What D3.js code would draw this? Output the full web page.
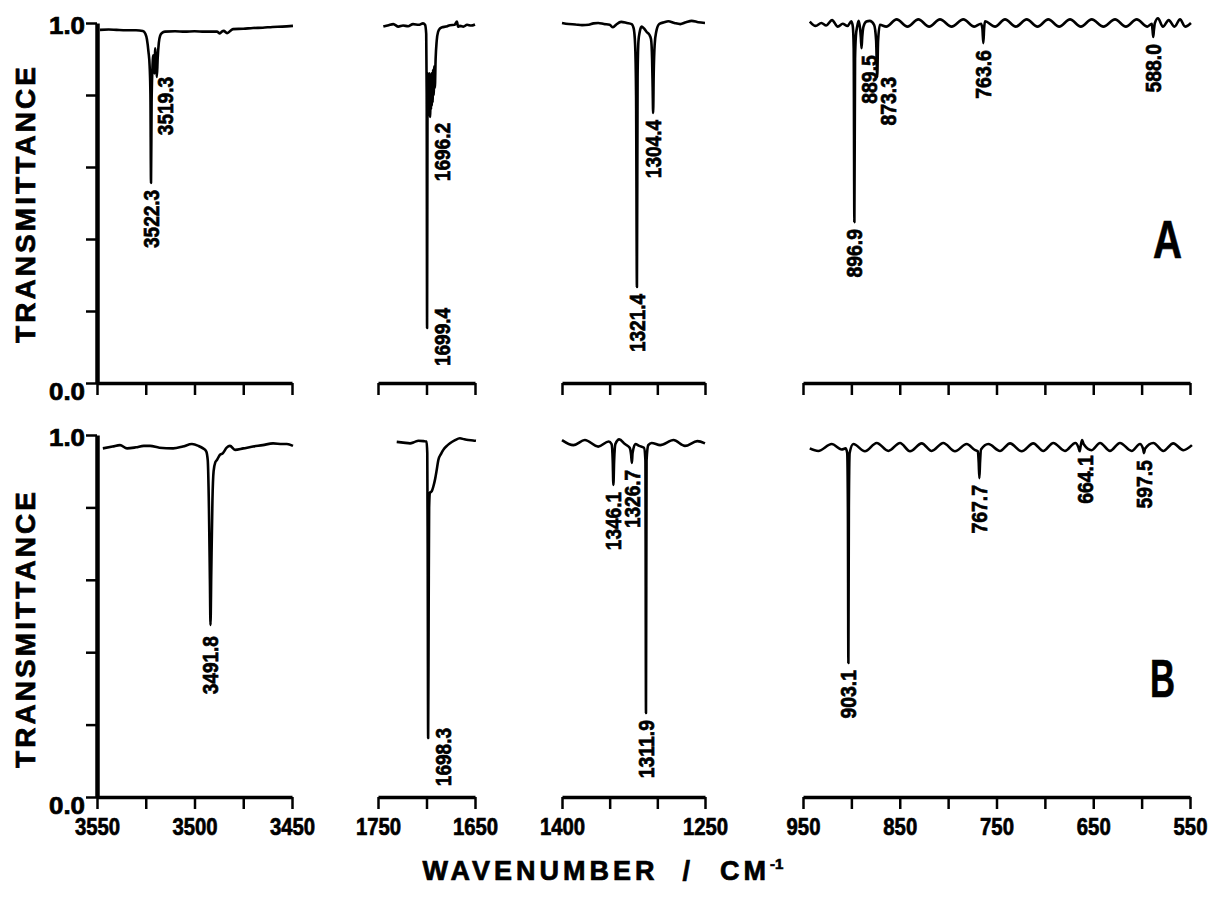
<!DOCTYPE html>
<html>
<head>
<meta charset="utf-8">
<script src="https://cdn.jsdelivr.net/npm/d3@7"></script>
<style>
  body { margin: 0; background: #fff; }
  svg { display: block; }
  .spec { fill: none; stroke: #000; stroke-width: 2.6; stroke-linejoin: round; }
  text { font-family: "Liberation Sans", Arial, sans-serif; font-weight: bold; fill: #000; }
  .heavy { stroke: #000; stroke-width: 0.7; }
</style>
</head>
<body>
<svg id="chart" width="1218" height="897"></svg>
<script>
// Spectrum A, [wavenumber, transmittance]
const specA1 = [
  [3548.5, .981], [3544, .982], [3540, .981], [3535, .980], [3530, .980], [3526.5, .978],
  [3525.2, .97], [3524.4, .955], [3523.6, .92], [3523, .88], [3522.6, .80], [3522.3, .556],
  [3522.0, .78], [3521.6, .87], [3521.1, .91], [3520.6, .86], [3520.1, .93], [3519.7, .88],
  [3519.3, .85], [3518.9, .90], [3518.3, .945], [3517.6, .965], [3516.7, .972], [3515.1, .976],
  [3510, .977], [3505, .976], [3500, .977], [3495, .976], [3488.5, .976], [3487, .971],
  [3486, .976], [3485, .978], [3483.3, .972], [3480.3, .983], [3475, .984], [3470, .986],
  [3465, .987], [3460, .989], [3455, .99], [3449.5, .992]
];
const specA2 = [
  [1744.5, .990], [1739, .994], [1734.2, .997], [1729, .99], [1724.2, .993], [1719, .991],
  [1713.9, .997], [1708, .995], [1703.6, .999], [1701.5, .995], [1700.3, .97], [1699.8, .8],
  [1699.4, .153], [1699.0, .75], [1698.6, .86], [1698.2, .76], [1697.8, .85], [1697.4, .75],
  [1697.0, .86], [1696.6, .75], [1696.2, .739], [1695.8, .85], [1695.4, .76], [1695, .86],
  [1694.6, .77], [1694.2, .86], [1693.7, .78], [1693.2, .87], [1692.6, .80], [1692, .88],
  [1691.4, .82], [1690.6, .90], [1689.5, .95], [1688.1, .975], [1686, .985], [1684, .988],
  [1680, .99], [1675.8, .994], [1671, .995], [1668.6, 1.004], [1667.5, .99], [1665.5, .992],
  [1662, .99], [1658.2, .995], [1654, .993], [1650, .996]
];
const specA3 = [
  [1400, 1.0], [1393, .997], [1386, .996], [1379, .994], [1372, .995], [1367, .999],
  [1362, 1.0], [1356, .997], [1350, .995], [1346.5, .988], [1343, .996], [1338, 1.003],
  [1332, 1.0], [1327, .997], [1324.8, .985], [1323.3, .94], [1322.3, .80], [1321.4, .267],
  [1320.7, .85], [1319.8, .95], [1318.5, .975], [1316.5, .99], [1314, .985], [1311.2, .975],
  [1308.5, .968], [1306.6, .955], [1305.5, .90], [1304.9, .82], [1304.4, .75], [1303.8, .86],
  [1302.8, .94], [1301.2, .975], [1298, .997], [1293, 1.002], [1288.5, 1.005], [1282, 1.0],
  [1276, .997], [1270, 1.002], [1264, 1.006], [1257, 1.002], [1250, 1.0]
];
const specA4 = [
  [943, 1.004], [937, .992], [931, 1.0], [926, .993], [920, 1.008], [914, .99], [909, .998],
  [904, .992], [900, 1.005], [898.5, .99], [897.6, .93], [896.9, .447], [896.2, .90],
  [895.3, .965], [894, .99], [892.5, 1.006], [891, .985], [890.2, .96], [889.5, .93],
  [888.8, .96], [887.5, .99], [884.5, 1.004], [881, 1.006], [876.5, .995], [874.4, .95],
  [873.3, .85], [872.4, .95], [870.5, .995], [864, .99], [853.2, 1.01], [842, .99],
  [830.8, 1.01], [819.6, .99], [808.4, 1.01], [796.4, .99], [784.3, 1.01], [773, .99],
  [766, .998], [764.6, .985], [763.6, .944], [762.8, .985], [761.9, 1.005], [751.5, .99],
  [741.2, 1.01], [730, .99], [718.8, 1.01], [707.6, .99], [696.5, 1.01], [685.2, .99],
  [674, 1.01], [662.8, .99], [651.6, 1.01], [639.5, .99], [627.5, 1.01], [616.3, .99],
  [605.1, 1.01], [594, .99], [589.5, .998], [588.7, .98], [588.0, .961], [587.3, .98],
  [586.3, 1.0], [583.1, 1.013], [578, .99], [572, 1.008], [566, .99], [560.3, 1.01],
  [555, .99], [549, 1.0]
];

// Spectrum B
const specB1 = [
  [3547, .963], [3542, .968], [3538.2, .972], [3534.6, .963], [3530, .966], [3526, .97],
  [3522.8, .970], [3518, .965], [3511, .963], [3506, .968], [3501.3, .975], [3498, .97],
  [3495.6, .963], [3494, .955], [3493.2, .93], [3492.6, .80], [3492.1, .6], [3491.8, .475],
  [3491.4, .62], [3490.8, .82], [3490.2, .90], [3489.3, .925], [3488.5, .931], [3487, .945],
  [3485.4, .950], [3483.5, .965], [3481.8, .970], [3479.2, .959], [3475, .963], [3470, .968],
  [3465, .972], [3459.7, .977], [3455, .975], [3452.6, .975], [3449.5, .970]
];
const specB2 = [
  [1730.7, .981], [1724, .979], [1717, .977], [1712, .981], [1708.5, .984], [1703, .983],
  [1700, .982], [1699.2, .95], [1698.8, .7], [1698.3, .163], [1697.8, .5], [1697.3, .80],
  [1696.5, .84], [1694.5, .845], [1693, .857], [1691, .88], [1689.5, .903], [1687.8, .931],
  [1685, .948], [1682.7, .959], [1679, .97], [1675.8, .977], [1671, .985], [1665.5, .991],
  [1661, .988], [1656.9, .986], [1652, .985], [1649, .984]
];
const specB3 = [
  [1400, .986], [1388, .972], [1376, .986], [1362, .968], [1351, .982], [1348, .975],
  [1346.8, .93], [1346.1, .862], [1345.3, .93], [1344, .975], [1340, .988], [1334, .975],
  [1329, .965], [1327.5, .945], [1326.7, .923], [1326, .95], [1323, .975], [1319, .97],
  [1314, .965], [1312.5, .93], [1311.9, .232], [1311.3, .93], [1309.5, .972], [1306, .978],
  [1297, .972], [1283, .986], [1271, .970], [1258, .983], [1250, .977]
];
const specB4 = [
  [943, .963], [934.2, .956], [920.3, .975], [910, .96], [906, .963], [904.3, .95],
  [903.6, .80], [903.1, .370], [902.6, .80], [901.8, .95], [898, .975], [886, .955],
  [873.8, .978], [861.8, .956], [849.7, .978], [839.4, .955], [827.3, .977], [817, .956],
  [805, .978], [792.9, .955], [780.8, .975], [772, .958], [769.3, .955], [768.4, .925],
  [767.7, .881], [767, .925], [766, .96], [758.4, .975], [746.4, .956], [736, .977],
  [724, .955], [712, .977], [701.6, .956], [691.3, .978], [679.2, .956], [668.5, .978],
  [665.2, .965], [664.1, .955], [663, .97], [661.5, .986], [660, .975], [651.6, .958],
  [643, .978], [632.7, .956], [622.4, .978], [610.3, .956], [601.7, .975], [598.5, .962],
  [597.5, .95], [596.5, .962], [587.9, .978], [577.6, .956], [567.3, .977], [556.9, .958],
  [548, .972]
];

// Labelled peaks, [wavenumber, transmittance at tip]
const peaksA1 = [[3522.3, .556], [3519.3, .85]];
const peaksA2 = [[1699.4, .153], [1696.2, .739]];
const peaksA3 = [[1321.4, .267], [1304.4, .75]];
const peaksA4 = [[896.9, .447], [889.5, .93], [873.3, .85], [763.6, .944], [588.0, .961]];
const peaksB1 = [[3491.8, .475]];
const peaksB2 = [[1698.3, .163]];
const peaksB3 = [[1346.1, .862], [1326.7, .923], [1311.9, .232]];
const peaksB4 = [[903.1, .370], [767.7, .881], [664.1, .955], [597.5, .95]];

// Axis ticks
const xDomains = [[3550, 3450], [1750, 1650], [1400, 1250], [950, 550]];
const xTickSteps = [25, 50, 50, 50];
const xTickLabels = [[3550, 3500, 3450], [1750, 1650], [1400, 1250], [950, 850, 750, 650, 550]];
const yTicks = [0, 0.2, 0.4, 0.6, 0.8, 1.0];
const yTickLabels = [0, 1];

// Layout
const xRanges = [[97, 292], [378, 475], [562, 705], [803, 1190]];
const rows = [
  { name: "A", yRange: [383, 23], specs: [specA1, specA2, specA3, specA4],
    peaks: [peaksA1, peaksA2, peaksA3, peaksA4], showX: false, titleY: 205, letter: [1153, 258, 29] },
  { name: "B", yRange: [797, 435], specs: [specB1, specB2, specB3, specB4],
    peaks: [peaksB1, peaksB2, peaksB3, peaksB4], showX: true, titleY: 630, letter: [1150, 697, 25] }
];
// labels set beside their line instead of under the tip
const labelNudge = {
  "3519.3": [8, 0], "1699.4": [15, -20], "1696.2": [12, 6], "889.5": [8, 7],
  "873.3": [11, 0], "1698.3": [15, -10], "664.1": [5, 4], "3491.8": [0, 11]
};

const svg = d3.select("#chart");

rows.forEach(row => {
  const y = d3.scaleLinear().domain([0, 1]).range(row.yRange);
  const g = svg.append("g").attr("class", "row" + row.name);

  xDomains.forEach((dom, i) => {
    const x = d3.scaleLinear().domain(dom).range(xRanges[i]);
    const ticks = d3.range(dom[0], dom[1] - 1, -xTickSteps[i]);

    const xAxis = d3.axisBottom(x)
      .tickValues(ticks)
      .tickSize(12)
      .tickSizeOuter(0)
      .tickPadding(9)
      .tickFormat(d => (row.showX && xTickLabels[i].includes(d) ? d : ""));

    const gx = g.append("g")
      .attr("transform", "translate(0," + row.yRange[0] + ")")
      .call(xAxis);
    gx.select(".domain").attr("stroke-width", 3.5);
    gx.selectAll(".tick line").attr("stroke-width", 2.5);
    gx.selectAll(".tick text")
      .attr("class", "heavy")
      .attr("font-size", 24)
      .attr("font-family", '"Liberation Sans", Arial, sans-serif')
      .attr("font-weight", "bold")
      .filter(d => row.showX && xTickLabels[i].includes(d))
      .attr("textLength", d => String(d).length * 11.3)
      .attr("lengthAdjust", "spacingAndGlyphs");

    const line = d3.line()
      .x(d => x(d[0]))
      .y(d => y(d[1]))
      .curve(d3.curveMonotoneX);

    g.append("path")
      .datum(row.specs[i])
      .attr("class", "spec")
      .attr("d", line);

    row.peaks[i].forEach(([wn, t]) => {
      const lab = wn.toFixed(1);
      const [dx, dy] = labelNudge[lab] || [0, 7];
      g.append("text")
        .attr("class", "heavy")
        .attr("transform", `translate(${x(wn) + dx},${y(t) + dy}) rotate(-90)`)
        .attr("text-anchor", "end")
        .attr("dy", "0.36em")
        .attr("font-size", 22)
        .attr("textLength", lab.length * 9.7)
        .attr("lengthAdjust", "spacingAndGlyphs")
        .text(lab);
    });
  });

  // y axis on the first panel only
  const yAxis = d3.axisLeft(y).tickValues(yTicks).tickSize(11).tickSizeOuter(0).tickFormat("");
  const gy = g.append("g")
    .attr("transform", "translate(" + xRanges[0][0] + ",0)")
    .call(yAxis);
  gy.select(".domain").attr("stroke-width", 4.5);
  gy.selectAll(".tick line").attr("stroke-width", 2.5);

  yTickLabels.forEach(v => {
    g.append("text")
      .attr("class", "heavy")
      .attr("x", 85)
      .attr("y", y(v) + (v === 0 ? 9 : 3))
      .attr("dy", "0.36em")
      .attr("text-anchor", "end")
      .attr("font-size", 23)
      .attr("textLength", 36)
      .attr("lengthAdjust", "spacingAndGlyphs")
      .text(d3.format(".1f")(v));
  });

  g.append("text")
    .attr("class", "heavy")
    .attr("transform", `translate(35,${row.titleY}) rotate(-90)`)
    .attr("text-anchor", "middle")
    .attr("font-size", 28)
    .attr("textLength", 276)
    .attr("lengthAdjust", "spacing")
    .text("TRANSMITTANCE");

  g.append("text")
    .attr("class", "heavy")
    .attr("x", row.letter[0])
    .attr("y", row.letter[1])
    .attr("font-size", 53)
    .attr("textLength", row.letter[2])
    .attr("lengthAdjust", "spacingAndGlyphs")
    .text(row.name);
});

// x title
const title = svg.append("text")
  .attr("class", "heavy")
  .attr("x", 603)
  .attr("y", 880)
  .attr("text-anchor", "middle")
  .attr("font-size", 27)
  .attr("letter-spacing", 4);
title.append("tspan").text("WAVENUMBER");
title.append("tspan").attr("dx", 24).text("/");
title.append("tspan").attr("dx", 26).text("CM");
title.append("tspan").attr("dy", -11).attr("font-size", 15).attr("letter-spacing", 0).text("-1");
</script>
</body>
</html>
